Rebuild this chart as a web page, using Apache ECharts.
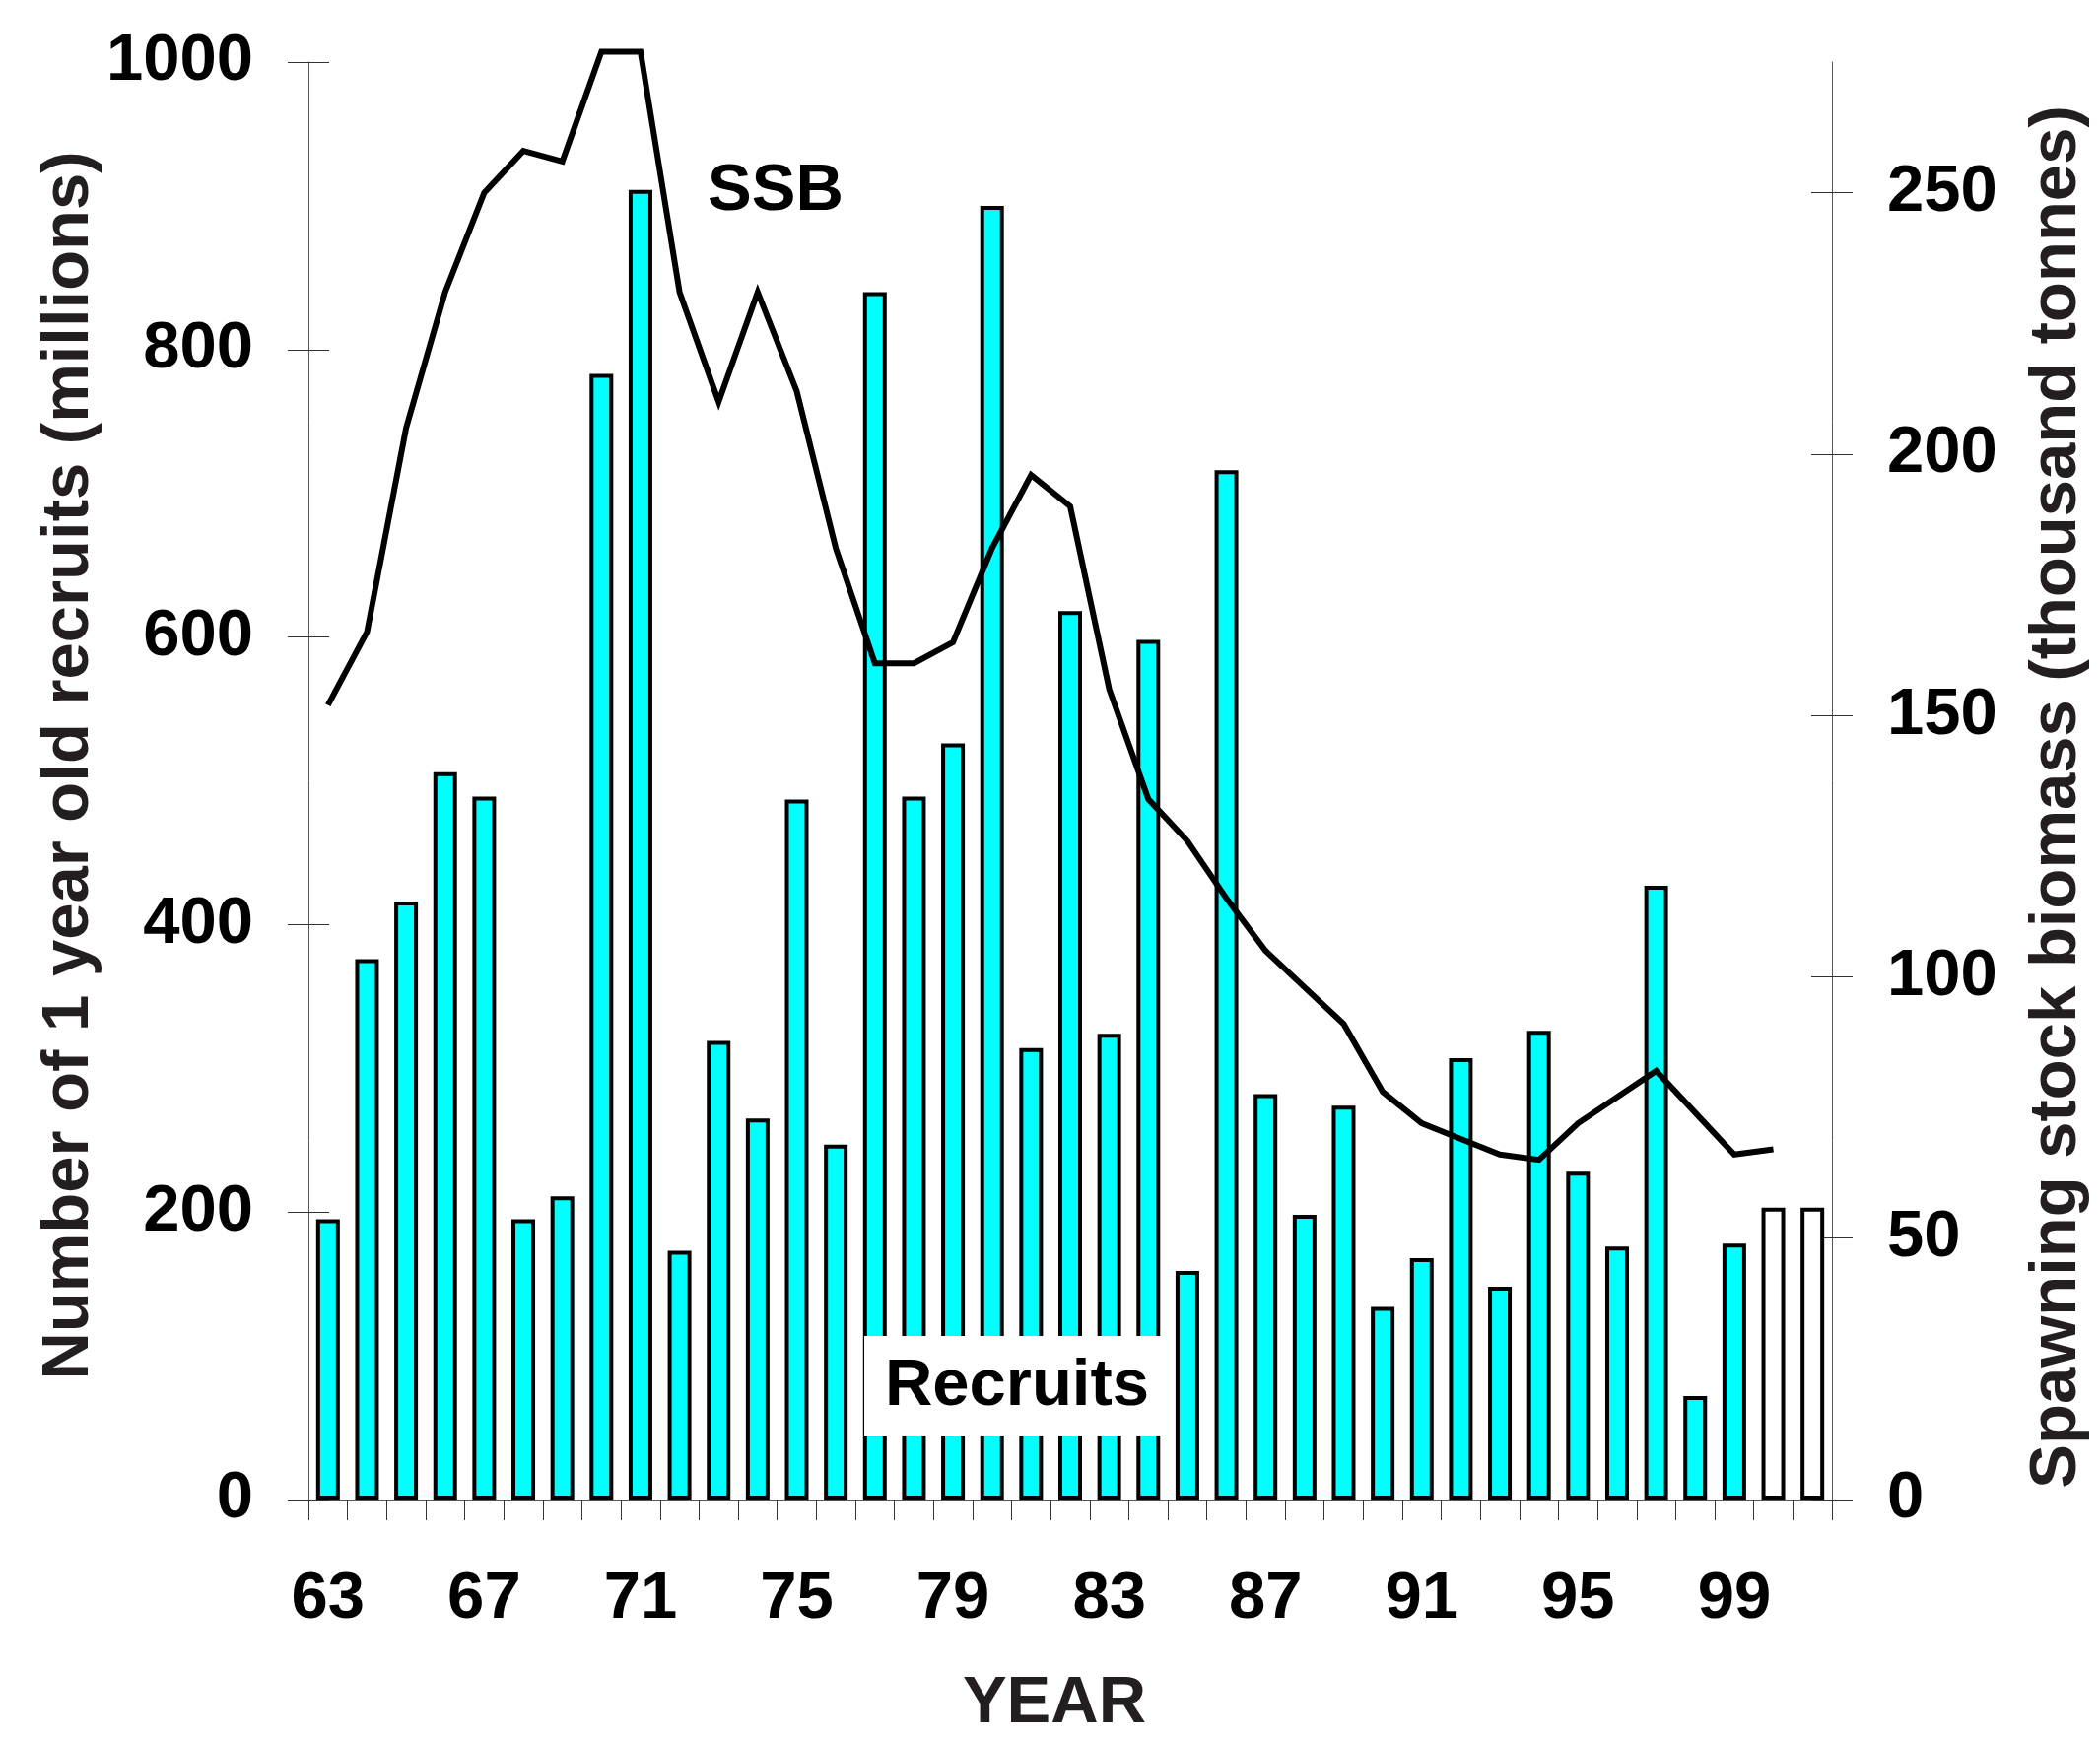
<!DOCTYPE html>
<html>
<head>
<meta charset="utf-8">
<script src="https://cdn.jsdelivr.net/npm/echarts@6/dist/echarts.min.js"></script>
<style>
  html, body { margin: 0; padding: 0; background: #fff; }
  #chart { width: 2131px; height: 1763px; }
</style>
</head>
<body>
<div id="chart"></div>
<script>
// years on the x axis (two digits, as in the original figure)
const years = ['63', '64', '65', '66', '67', '68', '69', '70', '71', '72',
  '73', '74', '75', '76', '77', '78', '79', '80', '81', '82',
  '83', '84', '85', '86', '87', '88', '89', '90', '91', '92',
  '93', '94', '95', '96', '97', '98', '99', '00', '01']

// number of 1 year old recruits (millions)
const recruits = [195, 376, 416, 506, 489, 195, 211, 783, 911, 173,
  319, 265, 487, 247, 840, 489, 526, 900, 314, 618,
  324, 598, 159, 716, 282, 198, 274, 134, 168, 307,
  148, 326, 228, 176, 427, 72, 178, 203, 203]

// years whose recruitment is assumed (drawn hollow)
const assumedYears = ['00', '01']

// spawning stock biomass (thousand tonnes)
const ssb = [152, 166, 205, 231, 250, 258, 256, 277, 277, 231,
  210, 231, 212, 182, 160, 160, 164, 182, 196, 190,
  155, 134, 126, 115, 105, 98, 91, 78, 72, 69,
  66, 65, 72, 77, 82, 74, 66, 67, null]

const rightTicks = [0, 50, 100, 150, 200, 250]

const FONT = '"Liberation Sans", Arial, sans-serif'
const TITLE_COLOR = '#231f20'
const labelStyle = { fontFamily: FONT, fontWeight: 'bold', fontSize: 67, color: '#000' }
const axisLineStyle = { color: '#555', width: 1 }
const tickStyle = { color: '#333', width: 1 }

const chart = echarts.init(document.getElementById('chart'))

const option = {
  backgroundColor: '#fff',
  animation: false,
  grid: { left: 313, right: 272, top: 63, bottom: 241 },
  xAxis: {
    type: 'category',
    data: years,
    boundaryGap: true,
    axisLine: { show: true, lineStyle: axisLineStyle },
    axisTick: { show: true, interval: 0, length: 21, lineStyle: tickStyle },
    axisLabel: { ...labelStyle, interval: 3, margin: 68 },
    splitLine: { show: false }
  },
  yAxis: [
    {
      type: 'value', position: 'left', min: 0, max: 1000, interval: 200,
      axisLine: { show: true, lineStyle: axisLineStyle },
      axisTick: { show: true, length: 21, lineStyle: tickStyle },
      axisLabel: { ...labelStyle, margin: 56, formatter: v => String(v) },
      splitLine: { show: false }
    },
    {
      type: 'value', position: 'right', min: 0, max: 275, interval: 50,
      axisLine: { show: true, lineStyle: axisLineStyle },
      axisTick: { show: true, length: 21, lineStyle: tickStyle, customValues: rightTicks },
      axisLabel: { ...labelStyle, margin: 56, customValues: rightTicks, formatter: v => String(v) },
      splitLine: { show: false }
    },
    // inner halves of the ticks, so they cross the axis lines
    {
      type: 'value', position: 'left', min: 0, max: 1000, interval: 200,
      axisLine: { show: false },
      axisTick: { show: true, inside: true, length: 21, lineStyle: tickStyle },
      axisLabel: { show: false },
      splitLine: { show: false }
    },
    {
      type: 'value', position: 'right', min: 0, max: 275, interval: 50,
      axisLine: { show: false },
      axisTick: { show: true, inside: true, length: 21, lineStyle: tickStyle, customValues: rightTicks },
      axisLabel: { show: false },
      splitLine: { show: false }
    }
  ],
  series: [
    {
      name: 'Recruits',
      type: 'bar',
      yAxisIndex: 0,
      barWidth: 24,
      itemStyle: { color: '#00ffff', borderColor: '#000', borderWidth: 4 },
      data: recruits.map((v, i) => assumedYears.includes(years[i])
        ? { value: v, itemStyle: { color: '#fff' } }
        : v),
      z: 2
    },
    {
      name: 'SSB',
      type: 'line',
      yAxisIndex: 1,
      data: ssb,
      symbol: 'none',
      clip: false,
      lineStyle: { color: '#000', width: 6, join: 'miter' },
      z: 3
    }
  ],
  graphic: [
    {
      type: 'text', x: 787, y: 195, z: 10,
      style: { text: 'SSB', font: 'bold 67px ' + FONT, fill: '#000', align: 'center', verticalAlign: 'middle' }
    },
    {
      type: 'rect', z: 10,
      shape: { x: 877, y: 1356, width: 303, height: 101 },
      style: { fill: '#fff' }
    },
    {
      type: 'text', x: 1032, y: 1408, z: 11,
      style: { text: 'Recruits', font: 'bold 67px ' + FONT, fill: '#000', align: 'center', verticalAlign: 'middle' }
    },
    {
      type: 'text', x: 1070, y: 1730, z: 10,
      style: { text: 'YEAR', font: 'bold 67px ' + FONT, fill: TITLE_COLOR, align: 'center', verticalAlign: 'middle' }
    },
    {
      type: 'text', x: 71, y: 777, rotation: Math.PI / 2, z: 10,
      style: { text: 'Number of 1 year old recruits (millions)', font: 'bold 67px ' + FONT, fill: TITLE_COLOR, align: 'center', verticalAlign: 'middle' }
    },
    {
      type: 'text', x: 2088, y: 809, rotation: Math.PI / 2, z: 10,
      style: { text: 'Spawning stock biomass (thousand tonnes)', font: 'bold 67px ' + FONT, fill: TITLE_COLOR, align: 'center', verticalAlign: 'middle' }
    }
  ]
}

chart.setOption(option)
</script>
</body>
</html>
